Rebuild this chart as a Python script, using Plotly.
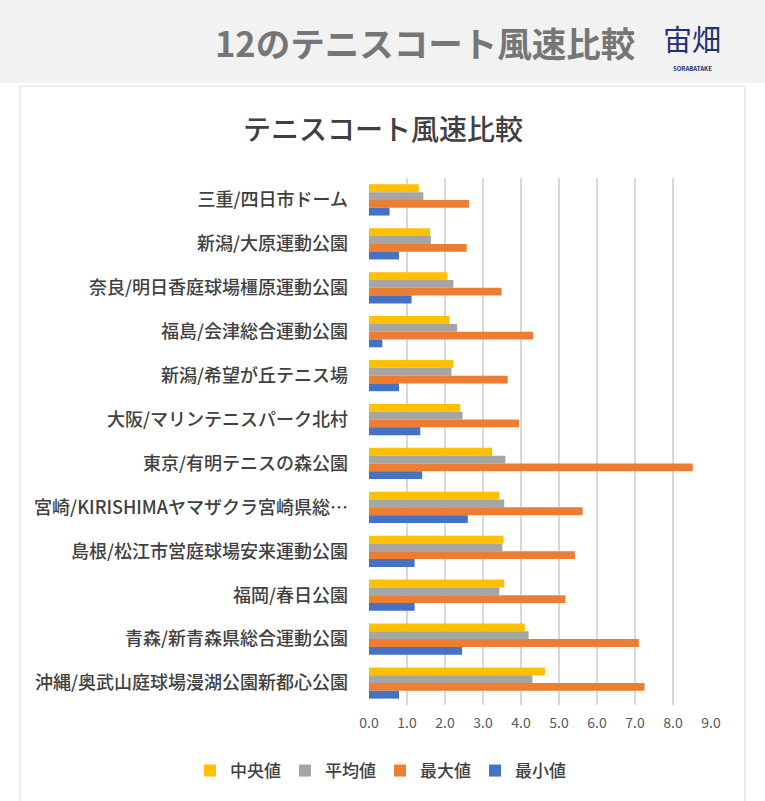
import plotly.graph_objects as go

# テニスコート風速比較 (m/s)
courts = [
    "三重/四日市ドーム",
    "新潟/大原運動公園",
    "奈良/明日香庭球場橿原運動公園",
    "福島/会津総合運動公園",
    "新潟/希望が丘テニス場",
    "大阪/マリンテニスパーク北村",
    "東京/有明テニスの森公園",
    "宮崎/KIRISHIMAヤマザクラ宮崎県総…",
    "島根/松江市営庭球場安来運動公園",
    "福岡/春日公園",
    "青森/新青森県総合運動公園",
    "沖縄/奥武山庭球場漫湖公園新都心公園",
]
median_vals = [1.31, 1.61, 2.06, 2.12, 2.22, 2.40, 3.24, 3.43, 3.54, 3.56, 4.10, 4.63]
mean_vals = [1.43, 1.63, 2.22, 2.32, 2.17, 2.46, 3.59, 3.56, 3.51, 3.43, 4.20, 4.30]
max_vals = [2.63, 2.57, 3.49, 4.32, 3.65, 3.95, 8.52, 5.62, 5.42, 5.17, 7.10, 7.25]
min_vals = [0.54, 0.79, 1.12, 0.35, 0.79, 1.35, 1.40, 2.60, 1.20, 1.20, 2.45, 0.79]

x_ticks = [0, 1, 2, 3, 4, 5, 6, 7, 8, 9]

series = [
    ("中央値", median_vals, "#FFC000"),
    ("平均値", mean_vals, "#A5A5A5"),
    ("最大値", max_vals, "#ED7D31"),
    ("最小値", min_vals, "#4472C4"),
]

W, H = 765, 801
L, R, T, B = 369, 54, 178, 96
FONT = "Noto Sans CJK JP"


def px_x(p):
    return (p - L) / (W - L - R)


def px_y(p):
    return (H - B - p) / (H - T - B)


def label(text, x, y, size, color, weight="normal"):
    return dict(text=text, xref="paper", yref="paper",
                x=px_x(x), y=px_y(y), xanchor="center", yanchor="middle",
                showarrow=False,
                font=dict(size=size, color=color, family=FONT, weight=weight))


fig = go.Figure()

for name, vals, color in series:
    fig.add_trace(go.Bar(
        y=courts,
        x=vals,
        name=name,
        orientation="h",
        marker=dict(color=color, line=dict(width=0)),
    ))

fig.update_layout(
    width=W,
    height=H,
    margin=dict(l=L, r=R, t=T, b=B),
    paper_bgcolor="white",
    plot_bgcolor="white",
    barmode="group",
    bargap=0.29,
    bargroupgap=0,
    font=dict(family=FONT, color="#595959"),
    legend=dict(
        orientation="h",
        x=px_x(190), xanchor="left",
        y=px_y(771), yanchor="middle",
        font=dict(size=17, color="#404040", weight=500),
        itemwidth=30,
        entrywidth=50,
        entrywidthmode="pixels",
        traceorder="normal",
    ),
    shapes=[
        # header band
        dict(type="rect", xref="paper", yref="paper", layer="below",
             x0=px_x(0), x1=px_x(W), y0=px_y(83), y1=px_y(0),
             fillcolor="#F2F2F2", line=dict(width=0)),
        # chart frame
        dict(type="rect", xref="paper", yref="paper", layer="below",
             x0=px_x(20), x1=px_x(745), y0=px_y(H + 5), y1=px_y(86),
             fillcolor="white", line=dict(color="#D9D9D9", width=1)),
    ],
    annotations=[
        label("12のテニスコート風速比較", 425, 42, 34.5, "#767676", "bold"),
        label("宙畑", 692, 38, 29, "#243070"),
        label("SORABATAKE", 692, 68, 6, "#243070", "bold"),
        label("テニスコート風速比較", 383, 128, 28, "#404040", 500),
    ],
)

fig.update_xaxes(
    range=[0, 9],
    tickvals=x_ticks,
    tickformat=".1f",
    showgrid=True,
    gridcolor="#D9D9D9",
    gridwidth=1.5,
    zeroline=False,
    showline=False,
    tickfont=dict(size=14, color="#595959"),
    ticklabelstandoff=8,
    fixedrange=True,
)
fig.update_yaxes(
    autorange="reversed",
    showgrid=False,
    zeroline=False,
    showline=False,
    tickfont=dict(size=18, color="#404040", weight=500),
    ticklabelstandoff=20,
    fixedrange=True,
)

fig.write_html("out.html", config={"displayModeBar": False},
               post_script="document.body.style.margin='0';")
